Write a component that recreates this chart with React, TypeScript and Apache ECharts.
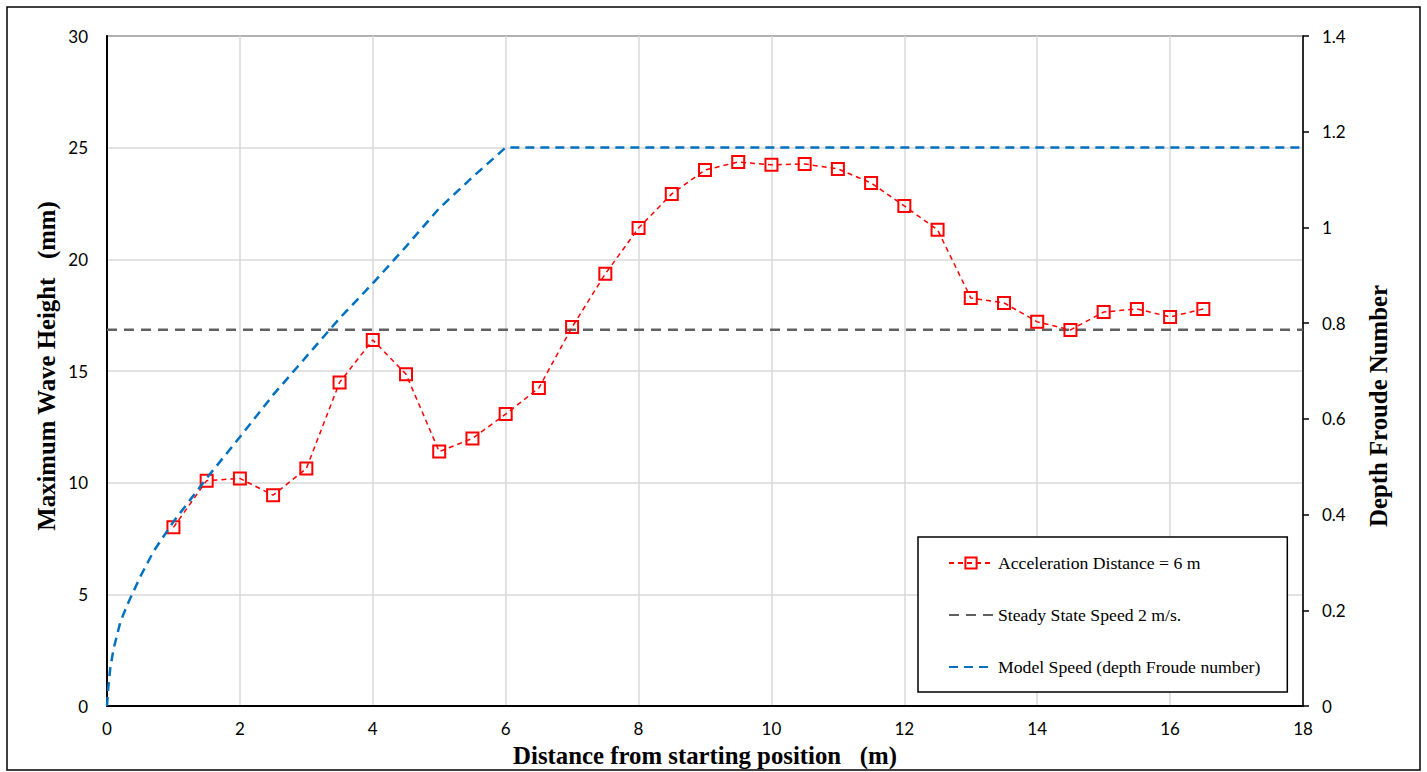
import React, { useEffect, useRef } from "react";
import * as echarts from "echarts";

// Red series: maximum wave height (mm) vs distance (m)
const distance = [1, 1.5, 2, 2.5, 3, 3.5, 4, 4.5, 5, 5.5, 6, 6.5, 7, 7.5, 8, 8.5, 9, 9.5, 10, 10.5, 11, 11.5, 12, 12.5, 13, 13.5, 14, 14.5, 15, 15.5, 16, 16.5];
const waveHeight = [8.0, 10.09, 10.19, 9.44, 10.63, 14.49, 16.39, 14.86, 11.39, 11.98, 13.07, 14.24, 16.97, 19.35, 21.4, 22.93, 24.0, 24.36, 24.23, 24.27, 24.05, 23.42, 22.39, 21.32, 18.27, 18.05, 17.2, 16.84, 17.64, 17.78, 17.42, 17.78];

// Blue series: model speed as depth Froude number
const speedDistance = [0, 0.02, 0.05, 0.1, 0.2, 0.3, 0.4, 0.5, 0.7, 1.0, 1.5, 2, 2.5, 3, 3.5, 4, 4.5, 5, 5.5, 6, 18];
const froude = [0, 0.04, 0.08, 0.12, 0.175, 0.21, 0.24, 0.27, 0.323, 0.385, 0.476, 0.562, 0.65, 0.73, 0.81, 0.883, 0.96, 1.04, 1.105, 1.167, 1.167];

// Grey series: steady state speed
const steadyDistance = [0, 18];
const steadyFroude = [0.786, 0.786];

const xTicks = { min: 0, max: 18, interval: 2 };
const leftTicks = { min: 0, max: 30, interval: 5 };
const rightTicks = { min: 0, max: 1.4, interval: 0.2 };

const seriesNames = [
  "Acceleration Distance = 6 m",
  "Steady State Speed 2 m/s.",
  "Model Speed (depth Froude number)",
];

const titleX = "Distance from starting position   (m)";
const titleLeft = "Maximum Wave Height   (mm)";
const titleRight = "Depth Froude Number";

const zip = (xs: number[], ys: number[]) => xs.map((x, i) => [x, ys[i]]);

export default function App() {
  const ref = useRef<HTMLDivElement>(null);
  useEffect(() => {
    if (!ref.current) return;
    const chart = echarts.init(ref.current, null, { renderer: "svg" });
    const labelFont = { fontFamily: "Lato", fontSize: 17, color: "#000" };
    const serifBold = 'bold 24.8px "Liberation Serif"';
    chart.setOption({
      animation: false,
      backgroundColor: "#fff",
      grid: {
        left: 107,
        right: 124,
        top: 36,
        bottom: 66,
        show: true,
        borderColor: "#000",
        borderWidth: 1.5,
        backgroundColor: "transparent",
      },
      xAxis: {
        type: "value",
        ...xTicks,
        axisLine: { show: true, lineStyle: { color: "#000", width: 2 } },
        axisTick: { show: false },
        axisLabel: { ...labelFont, margin: 14 },
        splitLine: { show: true, lineStyle: { color: "#d9d9d9", width: 1.5 } },
      },
      yAxis: [
        {
          type: "value",
          ...leftTicks,
          axisLine: { show: true, lineStyle: { color: "#000", width: 2 } },
          axisTick: { show: false },
          axisLabel: { ...labelFont, margin: 19 },
          splitLine: { show: true, lineStyle: { color: "#d9d9d9", width: 1.5 } },
        },
        {
          type: "value",
          position: "right",
          ...rightTicks,
          axisLine: { show: true, lineStyle: { color: "#000", width: 1.5 } },
          axisTick: { show: true, inside: false, length: 6, lineStyle: { color: "#000", width: 1.5 } },
          axisLabel: { ...labelFont, margin: 19 },
          splitLine: { show: false },
        },
      ],
      legend: {
        data: [
          { name: seriesNames[0] },
          { name: seriesNames[1], itemStyle: { opacity: 0 } },
          { name: seriesNames[2], itemStyle: { opacity: 0 } },
        ],
        orient: "vertical",
        left: 918,
        top: 537,
        itemWidth: 44,
        itemHeight: 14,
        itemGap: 34,
        padding: [17, 27, 16, 30],
        borderColor: "#000",
        borderWidth: 1.5,
        backgroundColor: "#fff",
        textStyle: { fontFamily: "Liberation Serif", fontSize: 17.7, color: "#000" },
      },
      series: [
        {
          name: seriesNames[0],
          type: "line",
          yAxisIndex: 0,
          data: zip(distance, waveHeight),
          symbol: "rect",
          symbolSize: 12,
          color: "#ff0000",
          lineStyle: { color: "#ff0000", width: 1.5, type: [5, 4] },
          itemStyle: { color: "rgba(255,255,255,0)", borderColor: "#ff0000", borderWidth: 2 },
          z: 3,
        },
        {
          name: seriesNames[1],
          type: "line",
          yAxisIndex: 1,
          data: zip(steadyDistance, steadyFroude),
          symbol: "none",
          color: "#616161",
          lineStyle: { color: "#616161", width: 2.5, type: [10, 7] },
          z: 2,
        },
        {
          name: seriesNames[2],
          type: "line",
          yAxisIndex: 1,
          data: zip(speedDistance, froude),
          symbol: "none",
          color: "#0070c0",
          lineStyle: { color: "#0070c0", width: 2.5, type: [9, 6] },
          z: 4,
        },
      ],
      graphic: [
        {
          type: "rect",
          shape: { x: 7, y: 7, width: 1413, height: 763 },
          style: { fill: "none", stroke: "#000", lineWidth: 1.5 },
          silent: true,
          z: -10,
        },
        {
          type: "text",
          x: 705,
          y: 755,
          style: { text: titleX, font: serifBold, fill: "#000", align: "center", verticalAlign: "middle" },
        },
        {
          type: "text",
          x: 46,
          y: 366,
          rotation: Math.PI / 2,
          style: { text: titleLeft, font: serifBold, fill: "#000", align: "center", verticalAlign: "middle" },
        },
        {
          type: "text",
          x: 1378,
          y: 406,
          rotation: Math.PI / 2,
          style: { text: titleRight, font: serifBold, fill: "#000", align: "center", verticalAlign: "middle" },
        },
      ],
    });
    return () => chart.dispose();
  }, []);
  return (
    <div
      ref={ref}
      style={{ position: "fixed", left: 0, top: 0, width: 1427, height: 772 }}
    />
  );
}
